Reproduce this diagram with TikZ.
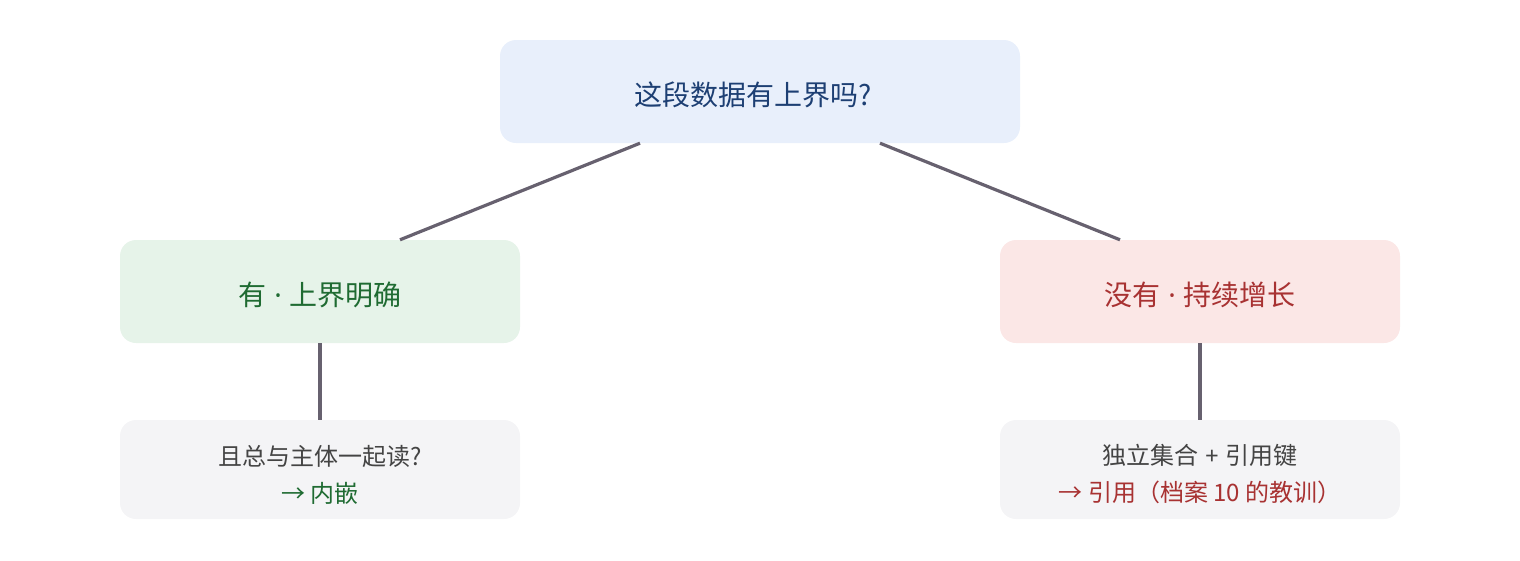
\documentclass[tikz,border=0pt]{standalone}
\usepackage{fontspec}
\setmainfont{Noto Sans CJK SC}
\newfontfamily\latinfont{Noto Sans}
\usetikzlibrary{positioning}

\definecolor{qfill}{HTML}{E8EFFB}
\definecolor{qtext}{HTML}{1D3F73}
\definecolor{yfill}{HTML}{E6F3E9}
\definecolor{ytext}{HTML}{1F6B32}
\definecolor{nfill}{HTML}{FBE7E6}
\definecolor{ntext}{HTML}{A83232}
\definecolor{gfill}{HTML}{F4F4F6}
\definecolor{gtext}{HTML}{444444}
\definecolor{linkc}{HTML}{67616F}

\tikzset{
  box/.style={rounded corners=16pt, minimum width=400pt, minimum height=103pt, align=center, inner sep=0pt},
  note/.style={box, fill=gfill, text=gtext, minimum height=99pt, text height=67pt, font=\fontsize{24}{37}\selectfont},
  link/.style={line width=3.2pt, linkc}
}
\newcommand{\sep}[1]{{\latinfont\ #1\ }}

\begin{document}
\begin{tikzpicture}[x=1pt,y=1pt]
\useasboundingbox (0,0) rectangle (1520,-560);
% question
\node[box, fill=qfill, text=qtext, minimum width=520pt, text height=30pt, font=\fontsize{28}{32}\selectfont] (q) at (760,-91.5) {这段数据有上界吗?\hspace{14pt}};
% the two answers
\node[box, fill=yfill, text=ytext, text height=30pt, font=\fontsize{28}{32}\selectfont] (yes) at (320,-291.5) {有\sep{·}上界明确};
\node[box, fill=nfill, text=ntext, text height=30pt, font=\fontsize{28}{32}\selectfont] (no) at (1200,-291.5) {没有\sep{·}持续增长};
% what follows
\node[note] (embed) at (320,-469.5) {且总与主体一起读?\\\textcolor{ytext}{→ 内嵌}};
\node[note] (ref) at (1200,-469.5) {独立集合\sep{+}引用键\\\textcolor{ntext}{→ 引用（档案 10 的教训）}};
% connectors
\draw[link] ([xshift=-120pt]q.south) -- ([xshift=80pt]yes.north);
\draw[link] ([xshift=120pt]q.south) -- ([xshift=-80pt]no.north);
\draw[link] (yes) -- (embed);
\draw[link] (no) -- (ref);
\end{tikzpicture}
\end{document}
